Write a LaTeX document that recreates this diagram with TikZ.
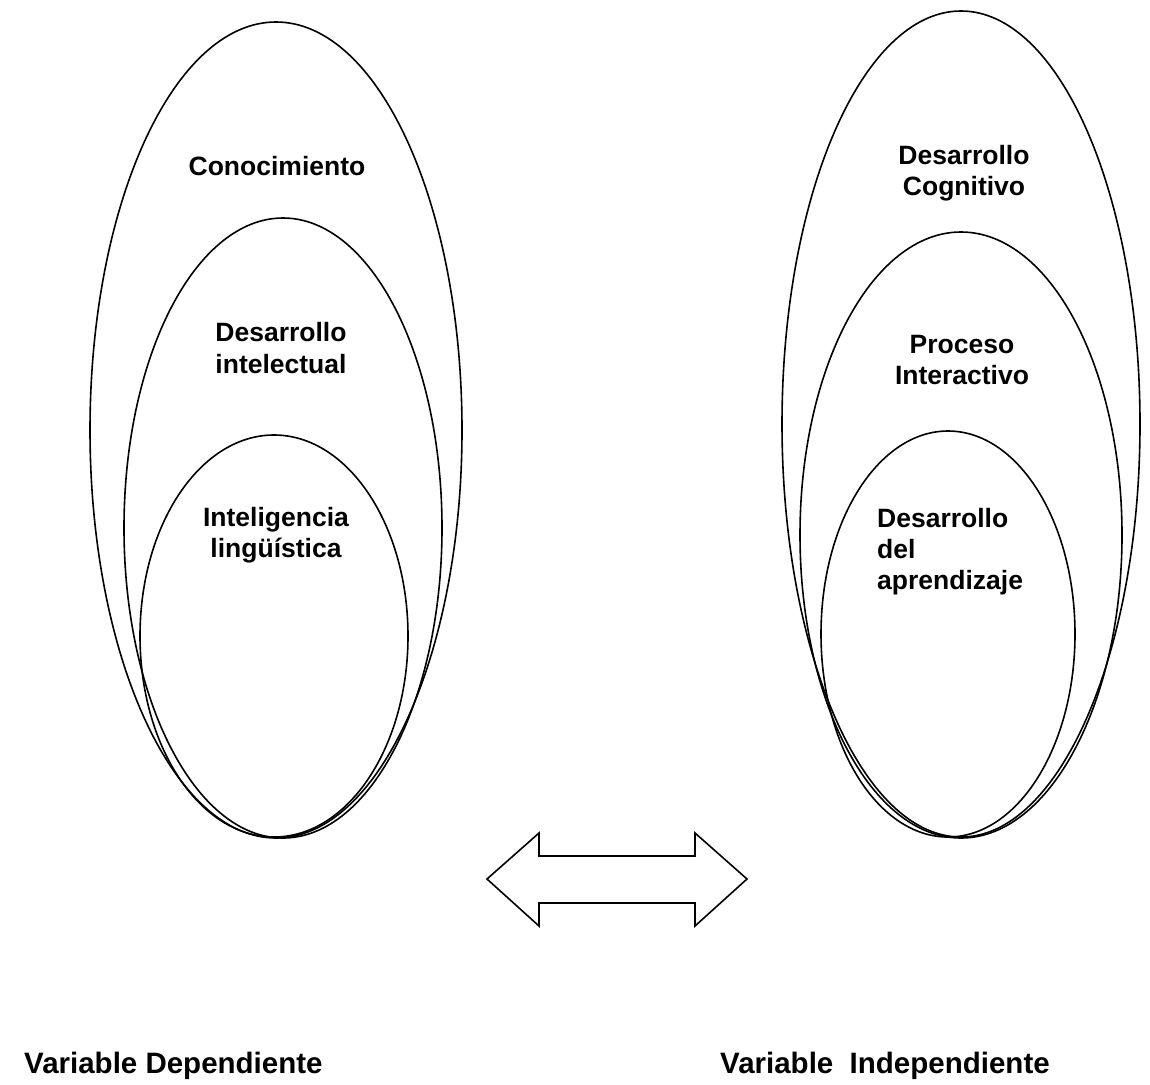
\documentclass[tikz,border=0pt]{standalone}
\usepackage{fontspec}
\setmainfont{Liberation Sans}
\begin{document}
\begin{tikzpicture}[x=1pt,y=-1pt,
  ell/.style={draw=black,line width=1.6pt},
  lbl/.style={font=\bfseries\fontsize{26.5}{31.5}\selectfont,inner sep=0pt,align=center},
  lbll/.style={font=\bfseries\fontsize{26.5}{31}\selectfont,inner sep=0pt,align=left,anchor=west},
  blbl/.style={font=\bfseries\fontsize{29.5}{34}\selectfont,inner sep=0pt,anchor=base west},
  dblarrow/.style={draw=black,line width=1.6pt,line join=miter,fill=white}]
\useasboundingbox (0,0) rectangle (1150,1084);
% left group
\draw[ell] (276,430) ellipse [x radius=186pt, y radius=408pt];
\draw[ell] (283,528) ellipse [x radius=159pt, y radius=310pt];
\draw[ell] (274,636) ellipse [x radius=134pt, y radius=201pt];
% right group
\draw[ell] (961,424) ellipse [x radius=179pt, y radius=413pt];
\draw[ell] (961,535) ellipse [x radius=161pt, y radius=303pt];
\draw[ell] (948,634) ellipse [x radius=127pt, y radius=203pt];
% texts
\node[lbl] (conoc) at (277,166) {Conocimiento};
\node[lbl] (desint) at (281,348) {Desarrollo\\intelectual};
\node[lbl] (intel) at (276,535) {Inteligencia\\lingüística};
\node[lbl] (descog) at (964,173) {Desarrollo\\Cognitivo};
\node[lbl] (proc) at (962,360) {Proceso\\Interactivo};
\node[lbll] (desap) at (877,552) {Desarrollo\\del\\aprendizaje};
% double arrow
\coordinate (al) at (487,879);
\coordinate (ar) at (747,879);
\draw[dblarrow] (al) -- (539,833) -- (539,856) -- (695,856) -- (695,833) -- (ar)
  -- (695,926) -- (695,903) -- (539,903) -- (539,926) -- cycle;
% bottom labels
\node[blbl] (vdep) at (24,1073) {Variable Dependiente};
\node[blbl] (vind) at (720,1073) {Variable\ \ Independiente};
\end{tikzpicture}
\end{document}
